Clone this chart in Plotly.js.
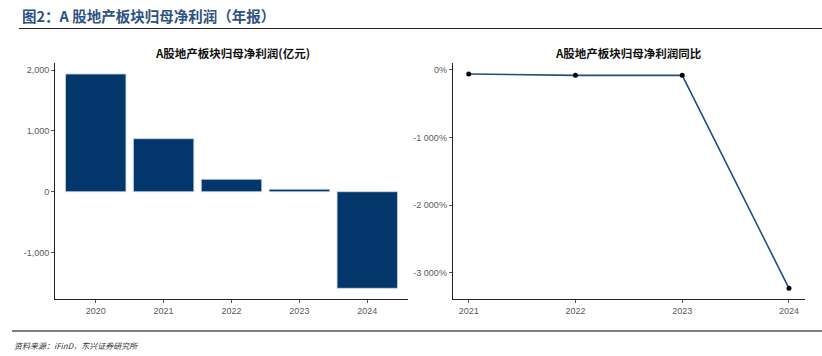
<!DOCTYPE html>
<html><head><meta charset="utf-8">
<script src="https://cdn.plot.ly/plotly-3.0.1.min.js"></script>
<style>body{margin:0;padding:0;background:#fff}#c{width:822px;height:356px}</style>
</head><body><div id="c"></div>
<script>
const years = ['2020','2021','2022','2023','2024'];
const profit = [1936, 872, 204, 40, -1589];
const yoyYears = ['2021','2022','2023','2024'];
const yoy = [-59, -79, -79, -3230];
const leftTickVals = [-1000, 0, 1000, 2000];
const leftTickText = ['-1,000', '0', '1,000', '2,000'];
const rightTickVals = [-3000, -2000, -1000, 0];
const rightTickText = ['-3 000%', '-2 000%', '-1 000%', '0%'];

const W = 822, H = 356;
const px = v => v / W, py = v => 1 - v / H;
const tickFont = {family: 'Liberation Sans, Arial, sans-serif', size: 9, color: '#5a5a5a'};

const traces = [
  {type: 'bar', x: years, y: profit, xaxis: 'x', yaxis: 'y', width: 0.89,
   marker: {color: '#03366a', line: {color: '#c9d6e6', width: 0.8}}, hoverinfo: 'none'},
  {type: 'scatter', mode: 'lines+markers', x: yoyYears, y: yoy, xaxis: 'x2', yaxis: 'y2',
   line: {color: '#1f4e80', width: 1.6}, marker: {color: '#000', size: 5}, hoverinfo: 'none'}
];

const axBase = {showgrid: false, zeroline: false, showline: true, linecolor: '#222', linewidth: 1,
  ticks: 'outside', ticklen: 3, tickcolor: '#555', tickwidth: 1, tickfont: tickFont, fixedrange: true};

const layout = {
  width: W, height: H, margin: {l: 0, r: 0, t: 0, b: 0},
  paper_bgcolor: '#fff', plot_bgcolor: '#fff', showlegend: false,
  xaxis: Object.assign({}, axBase, {domain: [px(55), px(408)], anchor: 'y', type: 'category', range: [-0.6, 4.6]}),
  yaxis: Object.assign({}, axBase, {domain: [py(299), py(63.3)], anchor: 'x', range: [-1765, 2112],
    tickvals: leftTickVals, ticktext: leftTickText}),
  xaxis2: Object.assign({}, axBase, {domain: [px(452.7), px(805)], anchor: 'y2', type: 'category', range: [-0.15, 3.15]}),
  yaxis2: Object.assign({}, axBase, {domain: [py(299), py(63.3)], anchor: 'x2', range: [-3388, 99],
    tickvals: rightTickVals, ticktext: rightTickText}),
  shapes: [
    {type: 'line', xref: 'paper', yref: 'paper', x0: px(19), x1: 1, y0: py(28.5), y1: py(28.5), line: {color: '#222', width: 1.2}},
    {type: 'line', xref: 'paper', yref: 'paper', x0: px(12), x1: 1, y0: py(331), y1: py(331), line: {color: '#555', width: 1.5}}
  ],
  annotations: [
    {xref: 'paper', yref: 'paper', x: px(20), y: py(15), xanchor: 'left', yanchor: 'middle', showarrow: false,
     text: '<b>图2：A 股地产板块归母净利润（年报）</b>', font: {family: 'Noto Sans CJK SC, sans-serif', size: 14.5, color: '#2e5283'}},
    {xref: 'paper', yref: 'paper', x: px(232.5), y: py(53), xanchor: 'center', yanchor: 'middle', showarrow: false,
     text: '<b>A股地产板块归母净利润(亿元)</b>', font: {family: 'Noto Sans CJK SC, sans-serif', size: 11.5, color: '#111'}},
    {xref: 'paper', yref: 'paper', x: px(628), y: py(53), xanchor: 'center', yanchor: 'middle', showarrow: false,
     text: '<b>A股地产板块归母净利润同比</b>', font: {family: 'Noto Sans CJK SC, sans-serif', size: 11.5, color: '#111'}},
    {xref: 'paper', yref: 'paper', x: px(12), y: py(345), xanchor: 'left', yanchor: 'middle', showarrow: false,
     text: '<i>资料来源：iFinD，东兴证券研究所</i>', font: {family: 'Noto Sans CJK SC, sans-serif', size: 8, color: '#333'}}
  ]
};

Plotly.newPlot('c', traces, layout, {staticPlot: true, displayModeBar: false});
</script></body></html>
